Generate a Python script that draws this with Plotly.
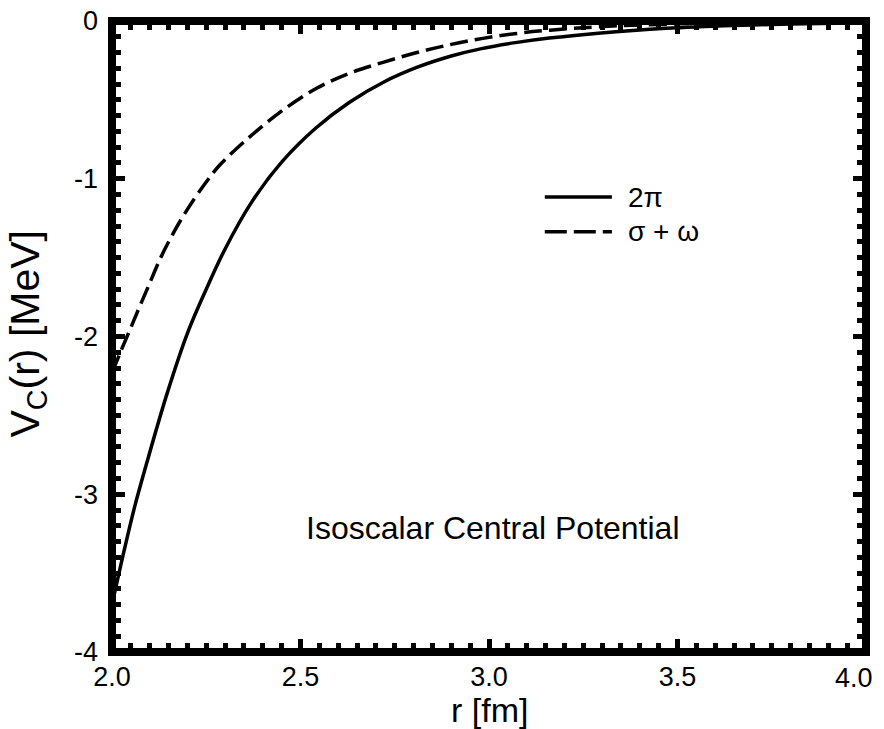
import plotly.graph_objects as go

# Data
r_2pi = [2.00, 2.03, 2.06, 2.09, 2.145, 2.20, 2.25, 2.30, 2.37, 2.45, 2.54, 2.63, 2.72, 2.81, 2.90, 2.98, 3.07, 3.16, 3.29, 3.47, 3.65, 3.80, 4.00]
v_2pi = [-3.70, -3.38, -3.08, -2.82, -2.37, -1.98, -1.70, -1.445, -1.15, -0.895, -0.68, -0.515, -0.388, -0.293, -0.222, -0.175, -0.137, -0.108, -0.077, -0.046, -0.028, -0.019, -0.011]

r_sw = [2.00, 2.024, 2.048, 2.069, 2.095, 2.13, 2.167, 2.20, 2.247, 2.286, 2.366, 2.454, 2.544, 2.631, 2.719, 2.809, 2.897, 2.984, 3.074, 3.162, 3.294, 3.50, 3.75, 4.00]
v_sw = [-2.23, -2.09, -1.955, -1.835, -1.69, -1.496, -1.326, -1.194, -1.030, -0.913, -0.733, -0.564, -0.425, -0.330, -0.262, -0.200, -0.150, -0.110, -0.079, -0.058, -0.036, -0.018, -0.008, -0.0035]

x_tickvals = [2.0, 2.5, 3.0, 3.5, 4.0]
x_ticktext = ["2.0", "2.5", "3.0", "3.5", ""]
x_last_label = "4.0"   # drawn just inside the right edge, as in the reference
y_tickvals = [-4, -3, -2, -1, 0]
y_ticktext = ["-4", "-3", "-2", "-1", "0"]

legend_names = ["2\u03c0", "\u03c3 + \u03c9"]
x_title = "r [fm]"
y_title = "V<sub>C</sub>(r) [MeV]"
note = "Isoscalar Central Potential"

FONT = "Arial, Liberation Sans, sans-serif"
CURVE_DASH = "18px,7px"

fig = go.Figure()
fig.add_trace(go.Scatter(x=r_2pi, y=v_2pi, mode="lines", name=legend_names[0],
                         line=dict(color="black", width=3.5, shape="spline", smoothing=1.0),
                         showlegend=False))
fig.add_trace(go.Scatter(x=r_sw, y=v_sw, mode="lines", name=legend_names[1],
                         line=dict(color="black", width=3.5, dash=CURVE_DASH, shape="spline", smoothing=1.0),
                         showlegend=False))

axis_common = dict(
    showline=False, mirror="allticks",
    ticks="inside", ticklen=13, tickwidth=5, tickcolor="black",
    showgrid=False, zeroline=False, automargin=False,
    tickfont=dict(family=FONT, size=27, color="black"),
)

fig.update_xaxes(
    range=[2.0, 4.0], tickmode="array", tickvals=x_tickvals, ticktext=x_ticktext,
    minor=dict(dtick=0.05, ticks="inside", ticklen=9, tickwidth=5, tickcolor="black", showgrid=False),
    ticklabelstandoff=6,
    **axis_common,
)
fig.update_yaxes(
    range=[-4, 0], tickmode="array", tickvals=y_tickvals, ticktext=y_ticktext,
    minor=dict(dtick=0.1, ticks="inside", ticklen=9, tickwidth=5, tickcolor="black", showgrid=False),
    ticklabelstandoff=13,
    **axis_common,
)

# Thick frame centred on the plot-area edge
fig.add_shape(type="rect", xref="paper", yref="paper", x0=0, x1=1, y0=0, y1=1,
              line=dict(color="black", width=8), layer="above")

# Last x tick label, right-aligned at the frame
fig.add_annotation(xref="x", yref="paper", x=x_tickvals[-1], y=0, text=x_last_label, showarrow=False,
                   xanchor="right", yanchor="top", xshift=9, yshift=-9,
                   font=dict(family=FONT, size=27, color="black"))

# Axis titles
fig.add_annotation(xref="paper", yref="paper", x=0.5, y=-0.059, text=x_title, showarrow=False,
                   xanchor="center", yanchor="top", font=dict(family=FONT, size=34, color="black"))
fig.add_annotation(xref="paper", yref="paper", x=-0.112, y=0.504, text=y_title, showarrow=False,
                   textangle=-90, xanchor="center", yanchor="middle",
                   font=dict(family=FONT, size=41, color="black"))

# Manual legend
leg_y = [0.721, 0.666]
dashes = ["solid", "22px,7px"]
for name, yy, dsh in zip(legend_names, leg_y, dashes):
    fig.add_shape(type="line", xref="paper", yref="paper", x0=0.574, x1=0.663, y0=yy, y1=yy,
                  line=dict(color="black", width=3.5, dash=dsh))
    fig.add_annotation(xref="paper", yref="paper", x=0.682, y=yy, text=name, showarrow=False,
                       xanchor="left", yanchor="middle", font=dict(family=FONT, size=28, color="black"))

fig.add_annotation(xref="paper", yref="paper", x=0.505, y=0.197, text=note,
                   showarrow=False, xanchor="center", yanchor="middle",
                   font=dict(family=FONT, size=32, color="black"))

fig.update_layout(
    width=884, height=729,
    margin=dict(l=112, r=18, t=21, b=77),
    paper_bgcolor="white", plot_bgcolor="white",
    showlegend=False,
)

fig.write_html("out.html")
